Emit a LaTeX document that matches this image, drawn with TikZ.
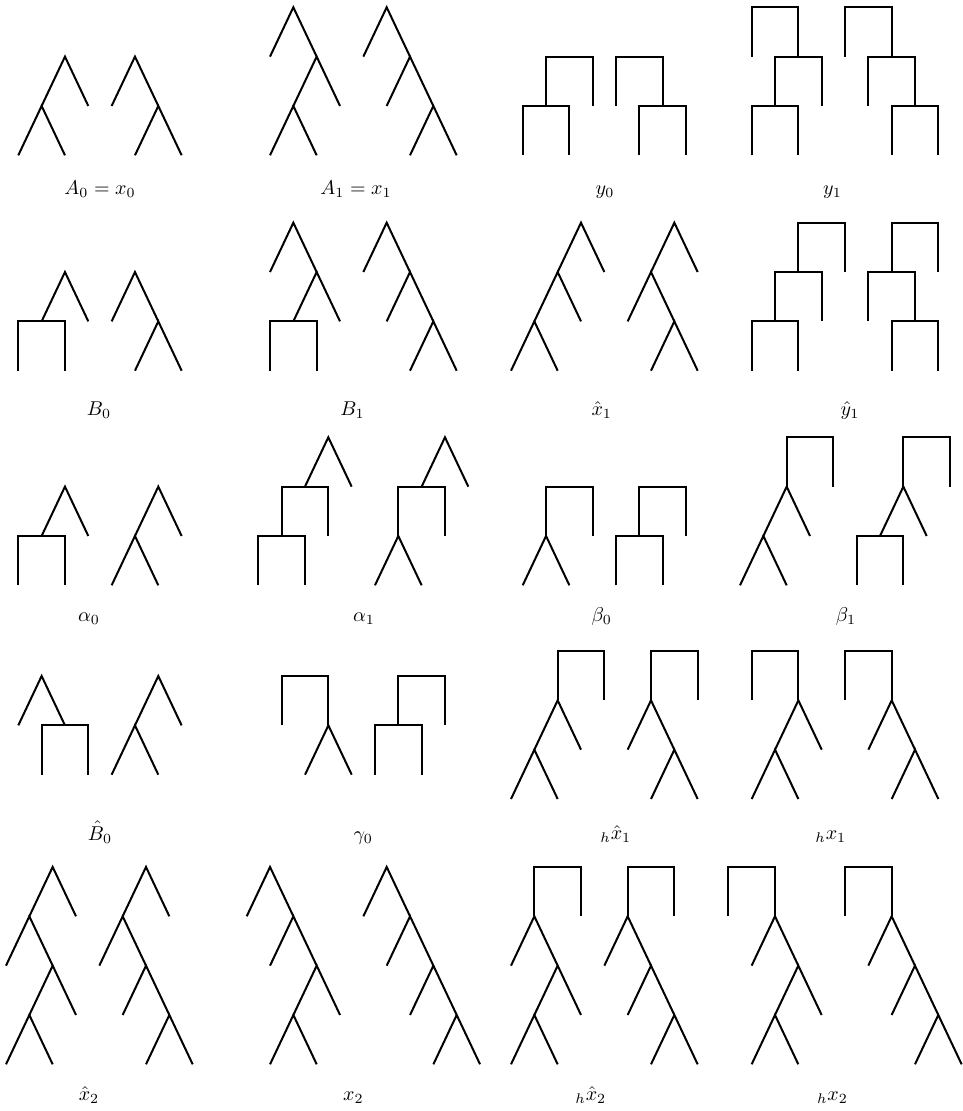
\documentclass[tikz,border=0pt]{standalone}
\newcommand\Tcar[2]{\draw[tl] ({#1-1},{#2-1}) -- (#1,#2) -- ({#1+1},{#2-1});}
\newcommand\Scar[2]{\draw[tl] ({#1-1},{#2-1}) -- ({#1-1},#2) -- ({#1+1},#2) -- ({#1+1},{#2-1});}
\tikzset{
  tl/.style={line width=1pt, line join=miter, line cap=butt},
  lab/.style={anchor=base, inner sep=0pt},
  grid/.style={x=11.6667pt, y=24.6667pt}
}
\begin{document}
\begin{tikzpicture}[x=0.5pt,y=-0.5pt]
\useasboundingbox (0,0) rectangle (962,1111);
% ---------- Row 1 ----------
\begin{scope}[shift={(18.3,155.3)},grid] % A0
\Tcar{2}{2}\Tcar{1}{1}
\Tcar{5}{2}\Tcar{6}{1}
\end{scope}
\begin{scope}[shift={(270,155.3)},grid] % A1
\Tcar{1}{3}\Tcar{2}{2}\Tcar{1}{1}
\Tcar{5}{3}\Tcar{6}{2}\Tcar{7}{1}
\end{scope}
\begin{scope}[shift={(522.7,155.3)},grid] % y0
\Scar{2}{2}\Scar{1}{1}
\Scar{5}{2}\Scar{6}{1}
\end{scope}
\begin{scope}[shift={(751.7,155.3)},grid] % y1
\Scar{1}{3}\Scar{2}{2}\Scar{1}{1}
\Scar{5}{3}\Scar{6}{2}\Scar{7}{1}
\end{scope}
% ---------- Row 2 ----------
\begin{scope}[shift={(18.3,370.7)},grid] % B0
\Tcar{2}{2}\Scar{1}{1}
\Tcar{5}{2}\Tcar{6}{1}
\end{scope}
\begin{scope}[shift={(270,370.7)},grid] % B1
\Tcar{1}{3}\Tcar{2}{2}\Scar{1}{1}
\Tcar{5}{3}\Tcar{6}{2}\Tcar{7}{1}
\end{scope}
\begin{scope}[shift={(511,370.7)},grid] % x1 hat
\Tcar{3}{3}\Tcar{2}{2}\Tcar{1}{1}
\Tcar{7}{3}\Tcar{6}{2}\Tcar{7}{1}
\end{scope}
\begin{scope}[shift={(751.7,370.7)},grid] % y1 hat
\Scar{3}{3}\Scar{2}{2}\Scar{1}{1}
\Scar{7}{3}\Scar{6}{2}\Scar{7}{1}
\end{scope}
% ---------- Row 3 ----------
\begin{scope}[shift={(18.3,585.3)},grid] % alpha0
\Tcar{2}{2}\Scar{1}{1}
\Tcar{6}{2}\Tcar{5}{1}
\end{scope}
\begin{scope}[shift={(258.3,585.3)},grid] % alpha1
\Tcar{3}{3}\Scar{2}{2}\Scar{1}{1}
\Tcar{8}{3}\Scar{7}{2}\Tcar{6}{1}
\end{scope}
\begin{scope}[shift={(522.7,585.3)},grid] % beta0
\Scar{2}{2}\Tcar{1}{1}
\Scar{6}{2}\Scar{5}{1}
\end{scope}
\begin{scope}[shift={(740,585.3)},grid] % beta1
\Scar{3}{3}\Tcar{2}{2}\Tcar{1}{1}
\Scar{8}{3}\Tcar{7}{2}\Scar{6}{1}
\end{scope}
% ---------- Row 4 ----------
\begin{scope}[shift={(18.3,774.7)},grid] % B0 hat
\Tcar{1}{2}\Scar{2}{1}
\Tcar{6}{2}\Tcar{5}{1}
\end{scope}
\begin{scope}[shift={(281.7,774.7)},grid] % gamma0
\Scar{1}{2}\Tcar{2}{1}
\Scar{6}{2}\Scar{5}{1}
\end{scope}
\begin{scope}[shift={(511,799)},grid] % h x1 hat
\Scar{3}{3}\Tcar{2}{2}\Tcar{1}{1}
\Scar{7}{3}\Tcar{6}{2}\Tcar{7}{1}
\end{scope}
\begin{scope}[shift={(751.7,799)},grid] % h x1
\Scar{1}{3}\Tcar{2}{2}\Tcar{1}{1}
\Scar{5}{3}\Tcar{6}{2}\Tcar{7}{1}
\end{scope}
% ---------- Row 5 ----------
\begin{scope}[shift={(6,1064.3)},grid] % x2 hat
\Tcar{2}{4}\Tcar{1}{3}\Tcar{2}{2}\Tcar{1}{1}
\Tcar{6}{4}\Tcar{5}{3}\Tcar{6}{2}\Tcar{7}{1}
\end{scope}
\begin{scope}[shift={(246.7,1064.3)},grid] % x2
\Tcar{1}{4}\Tcar{2}{3}\Tcar{3}{2}\Tcar{2}{1}
\Tcar{6}{4}\Tcar{7}{3}\Tcar{8}{2}\Tcar{9}{1}
\end{scope}
\begin{scope}[shift={(511,1064.3)},grid] % h x2 hat
\Scar{2}{4}\Tcar{1}{3}\Tcar{2}{2}\Tcar{1}{1}
\Scar{6}{4}\Tcar{5}{3}\Tcar{6}{2}\Tcar{7}{1}
\end{scope}
\begin{scope}[shift={(728.3,1064.3)},grid] % h x2
\Scar{1}{4}\Tcar{2}{3}\Tcar{3}{2}\Tcar{2}{1}
\Scar{6}{4}\Tcar{7}{3}\Tcar{8}{2}\Tcar{9}{1}
\end{scope}
% ---------- Labels ----------
\node[lab] (lA0) at (100,195) {$A_0 = x_0$};
\node[lab] (lA1) at (356,195) {$A_1 = x_1$};
\node[lab] (ly0) at (605,195) {$y_0$};
\node[lab] (ly1) at (832.5,195) {$y_1$};
\node[lab] (lB0) at (99,416) {$B_0$};
\node[lab] (lB1) at (352.5,416) {$B_1$};
\node[lab] (lxh1) at (601.7,416) {$\hat{x}_1$};
\node[lab] (lyh1) at (850,416) {$\hat{y}_1$};
\node[lab] (la0) at (89,621) {$\alpha_0$};
\node[lab] (la1) at (364,621) {$\alpha_1$};
\node[lab] (lb0) at (601.7,621) {$\beta_0$};
\node[lab] (lb1) at (846,621) {$\beta_1$};
\node[lab] (lBh0) at (100,840) {$\hat{B}_0$};
\node[lab] (lg0) at (363.3,840) {$\gamma_0$};
\node[lab] (lhxh1) at (615.8,839) {${}_h\hat{x}_1$};
\node[lab] (lhx1) at (830.8,839) {${}_hx_1$};
\node[lab] (lxh2) at (89,1100) {$\hat{x}_2$};
\node[lab] (lx2) at (353.3,1100) {$x_2$};
\node[lab] (lhxh2) at (590.8,1100) {${}_h\hat{x}_2$};
\node[lab] (lhx2) at (832.5,1100) {${}_hx_2$};
\end{tikzpicture}
\end{document}
